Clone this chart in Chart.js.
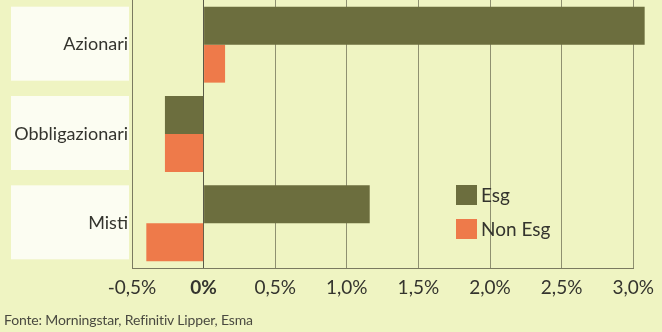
<!DOCTYPE html>
<html><head><meta charset="utf-8">
<script src="https://cdn.jsdelivr.net/npm/chart.js@4/dist/chart.umd.min.js"></script>
<style>
html,body{margin:0;padding:0;background:#eff4c2;}
#wrap{position:relative;width:662px;height:332px;overflow:hidden;}
canvas{position:absolute;left:0;top:0;}
#src{position:absolute;left:4px;top:311px;font-family:Lato,sans-serif;font-size:14px;color:#4a4a40;letter-spacing:-0.15px;}
</style></head>
<body>
<div id="wrap"><canvas id="c" width="662" height="332"></canvas>
<div id="src">Fonte: Morningstar, Refinitiv Lipper, Esma</div></div>
<script>
const categories = ['Azionari', 'Obbligazionari', 'Misti'];
const esgValues = [3.08, -0.27, 1.16];
const nonEsgValues = [0.15, -0.27, -0.40];
const seriesLabels = ['Esg', 'Non Esg'];
const tickMin = -0.5, tickMax = 3.0, tickStep = 0.5;

const bgPlugin = {
  id: 'bg',
  beforeDraw(chart) {
    const ctx = chart.ctx, y = chart.scales.y;
    ctx.save();
    ctx.fillStyle = '#eff4c2';
    ctx.fillRect(0, 0, chart.width, chart.height);
    ctx.fillStyle = '#fcfdf2';
    categories.forEach((c, i) => {
      const cy = y.getPixelForValue(i);
      ctx.fillRect(11, cy - 38, 118, 74);
    });
    ctx.restore();
  }
};
const legendPlugin = {
  id: 'customLegend',
  afterDraw(chart) {
    const ctx = chart.ctx;
    ctx.save();
    chart.data.datasets.forEach((ds, i) => {
      const top = 185 + i * 34;
      ctx.fillStyle = ds.backgroundColor;
      ctx.fillRect(456, top, 21, 20);
      ctx.fillStyle = '#34342e';
      ctx.font = '19px Lato';
      ctx.textBaseline = 'middle';
      ctx.fillText(ds.label, 481, top + 11);
    });
    ctx.restore();
  }
};

new Chart(document.getElementById('c'), {
  type: 'bar',
  data: {
    labels: categories,
    datasets: [
      { label: seriesLabels[0], data: esgValues, backgroundColor: '#6c6e3e', clip: false },
      { label: seriesLabels[1], data: nonEsgValues, backgroundColor: '#ee7a4a', clip: false }
    ]
  },
  options: {
    indexAxis: 'y',
    responsive: false,
    animation: false,
    devicePixelRatio: 1,
    layout: { padding: { top: 0, right: 24, bottom: 31, left: 0 } },
    plugins: { legend: { display: false }, tooltip: { enabled: false } },
    datasets: { bar: { categoryPercentage: 0.85, barPercentage: 1.0 } },
    scales: {
      x: {
        type: 'linear',
        min: tickMin, max: tickMax,
        afterFit(s) { s.height = 33; },
        ticks: {
          stepSize: tickStep,
          padding: 8,
          color: '#34342e',
          font: (ctx) => ({ family: 'Lato', size: 19, weight: ctx.tick && ctx.tick.value === 0 ? 'bold' : 'normal' }),
          callback: (v) => v === 0 ? '0%' : v.toFixed(1).replace('.', ',') + '%'
        },
        grid: {
          drawTicks: false,
          color: (ctx) => ctx.tick && ctx.tick.value === 0 ? '#5a5a48' : '#8f9070',
          lineWidth: 1
        },
        border: { display: true, color: '#7a7a60' }
      },
      y: {
        afterFit(s) { s.width = 132; s.paddingTop = 0; s.paddingBottom = 0; },
        ticks: { padding: 4, color: '#34342e', font: { family: 'Lato', size: 18 } },
        grid: { display: false, drawTicks: false },
        border: { display: true, color: '#7a7a60' }
      }
    }
  },
  plugins: [bgPlugin, legendPlugin]
});
</script>
</body></html>
